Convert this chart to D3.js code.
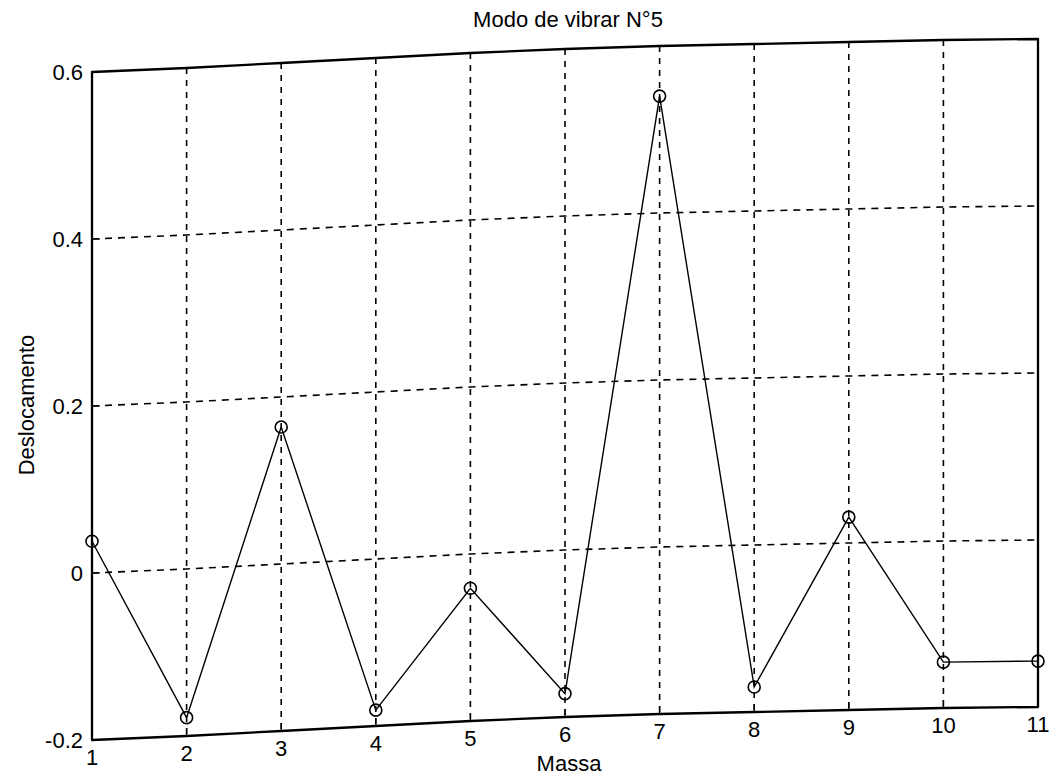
<!DOCTYPE html>
<html>
<head>
<meta charset="utf-8">
<script src="https://cdn.jsdelivr.net/npm/d3@7"></script>
<style>
  body { margin: 0; background: #fff; }
  text { font-family: "Liberation Sans", Arial, sans-serif; fill: #000; }
</style>
</head>
<body>
<div id="chart"></div>
<script>
// data
const massa = [1, 2, 3, 4, 5, 6, 7, 8, 9, 10, 11];
const deslocamento = [0.038, -0.178, 0.164, -0.181, -0.041, -0.172, 0.54, -0.17, 0.031, -0.145, -0.145];
const yTicks = [-0.2, 0, 0.2, 0.4, 0.6];
const yTickLabels = ["-0.2", "0", "0.2", "0.4", "0.6"];
const titulo = "Modo de vibrar N°5";
const xTitulo = "Massa";
const yTitulo = "Deslocamento";

var W = 1052, H = 775;
var margin = { left: 92, top: 72 };
var width = 946, height = 668;
var fontSize = "22px";

var svg = d3.select("#chart").append("svg")
  .attr("width", W).attr("height", H);

var g = svg.append("g")
  .attr("transform", `translate(${margin.left},${margin.top})`);

var x = d3.scaleLinear().domain([1, 11]).range([0, width]);
var y = d3.scaleLinear().domain([-0.2, 0.6]).range([height, 0]);

// the scanned page is bent a little: everything drifts up toward the right
var warp = d3.scaleLinear()
  .domain([1, 2, 3, 4, 5, 6, 7, 8, 9, 10, 11])
  .range([0, -4, -9, -14, -19, -23, -26, -28, -30, -32, -33]);

var yw = (m, v) => y(v) + warp(m);

var hline = d3.line().x(d => x(d.m)).y(d => yw(d.m, d.v));
var along = v => massa.map(m => ({ m: m, v: v }));

/* grid */
g.selectAll(".vgrid")
  .data(massa.slice(1, -1))
  .enter().append("line")
  .attr("x1", d => x(d)).attr("x2", d => x(d))
  .attr("y1", d => yw(d, 0.6)).attr("y2", d => yw(d, -0.2))
  .attr("stroke", "#000").attr("stroke-width", 1.6)
  .attr("stroke-dasharray", "6,6");

g.selectAll(".hgrid")
  .data(yTicks.slice(1, -1))
  .enter().append("path")
  .attr("d", d => hline(along(d)))
  .attr("fill", "none")
  .attr("stroke", "#000").attr("stroke-width", 1.6)
  .attr("stroke-dasharray", "7,6");

/* y tick labels */
g.selectAll(".ylab")
  .data(yTicks)
  .enter().append("text")
  .attr("x", -9)
  .attr("y", d => yw(1, d))
  .attr("dy", "0.35em")
  .attr("text-anchor", "end")
  .style("font-size", fontSize)
  .text((d, i) => yTickLabels[i]);

/* x tick labels */
g.selectAll(".xlab")
  .data(massa)
  .enter().append("text")
  .attr("x", d => x(d))
  .attr("y", d => yw(d, -0.2) + 25)
  .attr("text-anchor", "middle")
  .style("font-size", fontSize)
  .text(d3.format("d"));

/* inward ticks */
g.selectAll(".xt").data(massa).enter().append("line")
  .attr("x1", d => x(d)).attr("x2", d => x(d))
  .attr("y1", d => yw(d, -0.2)).attr("y2", d => yw(d, -0.2) - 8)
  .attr("stroke", "#000").attr("stroke-width", 1.2);
g.selectAll(".yt").data(yTicks).enter().append("line")
  .attr("x1", 0).attr("x2", 8)
  .attr("y1", d => yw(1, d)).attr("y2", d => yw(1, d))
  .attr("stroke", "#000").attr("stroke-width", 1.2);

/* box */
var boxPts = along(0.6).concat(along(-0.2).reverse());
g.append("path")
  .attr("d", hline(boxPts) + "Z")
  .attr("fill", "none")
  .attr("stroke", "#000")
  .attr("stroke-width", 2.3)
  .attr("stroke-linejoin", "round");

/* series */
var data = massa.map((m, i) => ({ m: m, v: deslocamento[i] }));

g.append("path")
  .datum(data)
  .attr("d", hline)
  .attr("fill", "none")
  .attr("stroke", "#000")
  .attr("stroke-width", 1.4);

g.selectAll(".pt")
  .data(data)
  .enter().append("circle")
  .attr("cx", d => x(d.m))
  .attr("cy", d => yw(d.m, d.v))
  .attr("r", 6)
  .attr("fill", "none")
  .attr("stroke", "#000")
  .attr("stroke-width", 1.6);

/* labels */
svg.append("text")
  .attr("x", 568).attr("y", 27)
  .attr("text-anchor", "middle")
  .style("font-size", fontSize)
  .text(titulo);

svg.append("text")
  .attr("x", 569).attr("y", 771)
  .attr("text-anchor", "middle")
  .style("font-size", fontSize)
  .text(xTitulo);

svg.append("text")
  .attr("transform", "translate(34,405) rotate(-90)")
  .attr("text-anchor", "middle")
  .style("font-size", fontSize)
  .text(yTitulo);
</script>
</body>
</html>
